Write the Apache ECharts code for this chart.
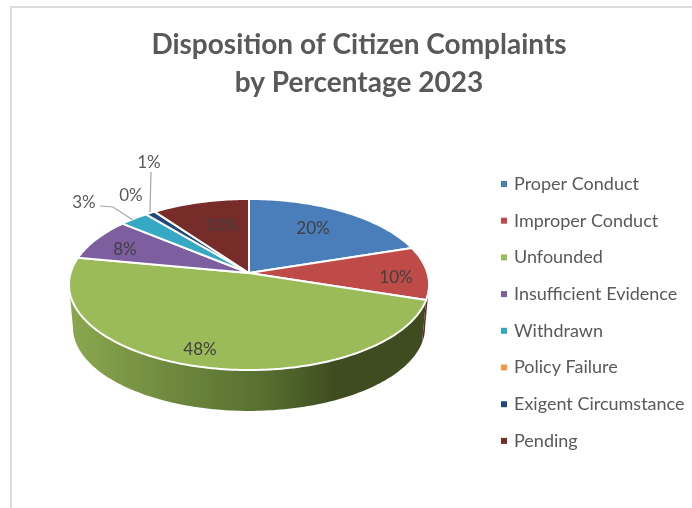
<!DOCTYPE html>
<html>
<head>
<meta charset="utf-8">
<style>
  html, body { margin: 0; padding: 0; background: #fff; }
  #chart { width: 692px; height: 508px; }
</style>
<script src="https://cdn.jsdelivr.net/npm/echarts@6/dist/echarts.min.js"></script>
</head>
<body>
<div id="chart"></div>
<script>
const categories = ['Proper Conduct', 'Improper Conduct', 'Unfounded', 'Insufficient Evidence', 'Withdrawn', 'Policy Failure', 'Exigent Circumstance', 'Pending'];
const percents = [20, 10, 48, 8, 3, 0, 1, 10];
const colors = ['#4a7ebb', '#be4b48', '#9bbb59', '#7d5fa0', '#35a9c4', '#f79646', '#1f497d', '#772c2a'];
const sideColors = ['#2c4c70', '#6e2a28', '#3f4c20', '#4a3860', '#1f6575', '#94592a', '#122b4b', '#471a19'];
// where each percent label sits, and the leader line if it has one
const labelSpots = [[313, 229], [396, 278], [200, 350], [125, 250], [84, 203], [131, 196], [149, 163], [221, 226]];
const leaderLines = { 4: [[100, 206], [113, 207], [133, 220]], 6: [[151, 172], [150, 212]] };

const FONT = 'Lato';
const CX = 249, CY = 273;
const RX = 178.4, RY = 84;
const K = 0.1345;           // perspective of the tilted disc
const DEPTH = 43, SHRINK = 0.978;
const EDGE = Math.acos(-K); // where the rim turns away from the viewer

function rim(theta) {
  const f = 1 / (1 + K * Math.cos(theta));
  return [CX + RX * Math.sin(theta) * f, CY - RY * Math.cos(theta) * f];
}
function under(p) {
  return [CX + (p[0] - CX) * SHRINK, CY + (p[1] - CY) * SHRINK + DEPTH];
}
function arc(a, b) {
  const pts = [];
  const n = Math.max(1, Math.ceil((b - a) / 0.02));
  for (let i = 0; i <= n; i++) pts.push(rim(a + (b - a) * i / n));
  return pts;
}

const total = percents.reduce((a, b) => a + b, 0);
const starts = [];
percents.reduce((sum, v, i) => { starts[i] = sum; return sum + v; }, 0);

function renderSlice(i) {
  return function () {
    const a = starts[i] / total * Math.PI * 2;
    const b = (starts[i] + percents[i]) / total * Math.PI * 2;
    const children = [];

    // wall under the front part of the rim
    const from = Math.max(a, EDGE), to = Math.min(b, Math.PI * 2 - EDGE);
    if (to > from) {
      const top = arc(from, to);
      children.push({
        type: 'polygon',
        z2: 1,
        shape: { points: top.concat(top.map(under).reverse()) },
        style: {
          fill: i === 2 ? new echarts.graphic.LinearGradient(1, 0, 0, 0, [
            { offset: 0, color: '#3f4c20' },
            { offset: 0.25, color: '#3e4c20' },
            { offset: 0.45, color: '#566f30' },
            { offset: 0.72, color: '#6f8a3e' },
            { offset: 1, color: '#8aa84f' }
          ]) : sideColors[i]
        }
      });
    }

    if (b > a) {
      children.push({
        type: 'polygon',
        z2: 5,
        shape: { points: [[CX, CY]].concat(arc(a, b)) },
        style: { fill: colors[i], stroke: '#fff', lineWidth: 2, lineJoin: 'round' }
      });
    }

    const outside = !!leaderLines[i] || percents[i] === 0;
    if (leaderLines[i]) {
      children.push({
        type: 'polyline',
        z2: 8,
        shape: { points: leaderLines[i] },
        style: { fill: null, stroke: '#a6a6a6', lineWidth: 1.2 }
      });
    }
    children.push({
      type: 'text',
      z2: 10,
      style: {
        text: percents[i] + '%',
        x: labelSpots[i][0],
        y: labelSpots[i][1],
        align: 'center',
        verticalAlign: 'middle',
        fill: outside ? '#595959' : '#404040',
        fontFamily: FONT,
        fontSize: 17
      }
    });
    return { type: 'group', children };
  };
}

const chart = echarts.init(document.getElementById('chart'), null, { renderer: 'canvas' });
chart.setOption({
  animation: false,
  backgroundColor: '#fff',
  title: {
    text: 'Disposition of Citizen Complaints\nby Percentage 2023',
    left: 354,
    top: 21,
    textAlign: 'center',
    textStyle: {
      color: '#595959',
      fontFamily: FONT,
      fontSize: 28,
      fontWeight: 'bold',
      lineHeight: 38
    }
  },
  legend: {
    orient: 'vertical',
    left: 501,
    top: 174,
    padding: 0,
    itemWidth: 6,
    itemHeight: 6,
    itemGap: 16.7,
    icon: 'rect',
    selectedMode: false,
    data: categories,
    textStyle: {
      color: '#595959',
      fontFamily: FONT,
      fontSize: 18,
      lineHeight: 20,
      padding: [0, 0, 0, 2]
    }
  },
  graphic: [{
    type: 'polyline',
    silent: true,
    shape: { points: [[11, 508], [11, 7], [692, 7]] },
    style: { fill: null, stroke: '#dcdcdc', lineWidth: 2 }
  }],
  series: categories.map((name, i) => ({
    type: 'custom',
    name: name,
    coordinateSystem: 'none',
    silent: true,
    itemStyle: { color: colors[i] },
    renderItem: renderSlice(i),
    data: [percents[i]]
  }))
});
</script>
</body>
</html>
